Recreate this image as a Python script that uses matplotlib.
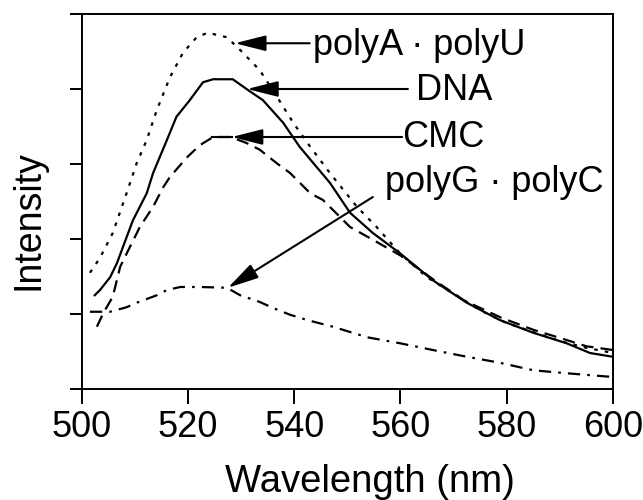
import numpy as np
import matplotlib
matplotlib.use('Agg')
import matplotlib.pyplot as plt

plt.rcParams['font.family'] = ['Liberation Sans', 'DejaVu Sans']

# polyA . polyU (dotted)
au_x = [501.5, 503.4, 505.8, 508.4, 510.3, 512.2, 514.1, 516.6, 519, 521.6, 523.7, 527.3,
        529.8, 533.5, 536.7, 539.8, 543, 546.7, 551.8, 555.5, 559.9, 565, 570, 575, 580,
        585, 590, 595, 600]
au_y = [1.55, 1.75, 2.08, 2.61, 3.01, 3.32, 3.72, 4.16, 4.48, 4.69, 4.75, 4.69,
        4.52, 4.25, 3.9, 3.55, 3.23, 2.88, 2.43, 2.16, 1.81, 1.49, 1.27, 1.05, 0.88,
        0.76, 0.64, 0.55, 0.48]

# DNA (solid)
dna_x = [502.4, 503.4, 505.3, 506.6, 507.7, 509.6, 512.2, 513.4, 516, 517.8, 520.3, 522.8,
         524.7, 528.4, 531, 534.1, 537.9, 541, 544.2, 546.7, 550.5, 554.8, 559.9, 566.1,
         572.5, 578.7, 585, 591.3, 595.7, 600]
dna_y = [1.25, 1.32, 1.49, 1.68, 1.89, 2.25, 2.61, 2.88, 3.32, 3.63, 3.85, 4.09,
         4.13, 4.13, 4.0, 3.85, 3.55, 3.23, 2.96, 2.75, 2.35, 2.08, 1.81, 1.45,
         1.15, 0.92, 0.75, 0.61, 0.48, 0.43]

# CMC (dashed)
cmc_x = [502.8, 504, 505.8, 507.2, 509, 510.9, 513.4, 515.3, 516.6, 519.8, 522.2, 524.7,
         528, 531, 533.5, 536.7, 539.2, 543, 545.4, 550.5, 554.8, 560, 566, 572, 579,
         585, 591, 595, 600]
cmc_y = [0.83, 1.01, 1.23, 1.63, 1.89, 2.16, 2.43, 2.69, 2.83, 3.09, 3.25, 3.36,
         3.36, 3.28, 3.19, 3.01, 2.88, 2.61, 2.52, 2.16, 1.99, 1.78, 1.47, 1.18, 0.95,
         0.79, 0.66, 0.57, 0.52]

# polyG . polyC (dash-dot)
gc_x = [501.5, 505.3, 508.4, 510.3, 514.1, 516, 518.5, 522.2, 527.3, 529.8, 533.5, 536,
        539.2, 542.4, 547.3, 553.7, 559.9, 566.1, 572.5, 578.7, 585, 591.3, 600]
gc_y = [1.03, 1.03, 1.09, 1.15, 1.25, 1.32, 1.36, 1.36, 1.35, 1.25, 1.16, 1.08,
        0.99, 0.92, 0.83, 0.69, 0.61, 0.52, 0.43, 0.35, 0.25, 0.21, 0.16]

fig = plt.figure(figsize=(6.43, 5.0), dpi=100)
ax = fig.add_axes([0.1275, 0.222, 0.8255, 0.75])

lw = 1.6
ax.plot(au_x, au_y, color='black', lw=lw, linestyle=(0, (1.6, 3.2)))
ax.plot(dna_x, dna_y, color='black', lw=lw, linestyle='-')
ax.plot(cmc_x, cmc_y, color='black', lw=lw, linestyle=(0, (5.5, 3.2)))
ax.plot(gc_x, gc_y, color='black', lw=lw, linestyle=(0, (5.5, 3.2, 1.2, 3.2)))

ax.set_xlim(500, 600)
ax.set_ylim(0, 5)
ax.set_xticks([500, 520, 540, 560, 580, 600])
ax.set_yticks([0, 1, 2, 3, 4, 5])
ax.set_yticklabels([])
ax.tick_params(axis='x', direction='out', length=11, width=1.4, labelsize=26, pad=4)
ax.tick_params(axis='y', direction='out', length=8.5, width=1.4)
for s in ax.spines.values():
    s.set_linewidth(1.4)

# axis titles (sit a bit off-centre in the original)
fig.text(370 / 643, 0.016, 'Wavelength (nm)', fontsize=27.5, ha='center', va='baseline')
fig.text(29 / 643, 1 - 220 / 500, 'Intensity', fontsize=27, rotation=90,
         ha='center', va='center')

arrow = dict(arrowstyle='-|>,head_length=1.9,head_width=0.48', color='black',
             lw=1.5, shrinkA=0, shrinkB=0, mutation_scale=10)
fs = 26

# labels with arrows
ax.annotate('', xy=(528.8, 4.61), xytext=(542.9, 4.61), arrowprops=arrow)
ax.text(543.6, 4.45, 'polyA \u00b7 polyU', fontsize=fs, va='baseline')

ax.annotate('', xy=(531.1, 4.0), xytext=(561.4, 4.0), arrowprops=arrow)
ax.text(563.0, 3.85, 'DNA', fontsize=fs, va='baseline')

ax.plot([524.5, 528.2], [3.36, 3.36], color='black', lw=1.5)
ax.annotate('', xy=(528.2, 3.36), xytext=(560.3, 3.36), arrowprops=arrow)
ax.text(560.4, 3.23, 'CMC', fontsize=fs, va='baseline')

ax.annotate('', xy=(527.5, 1.35), xytext=(554.8, 2.56), arrowprops=arrow)
ax.text(557.0, 2.62, 'polyG \u00b7 polyC', fontsize=fs, va='baseline')

fig.savefig('out.png', dpi=100)
